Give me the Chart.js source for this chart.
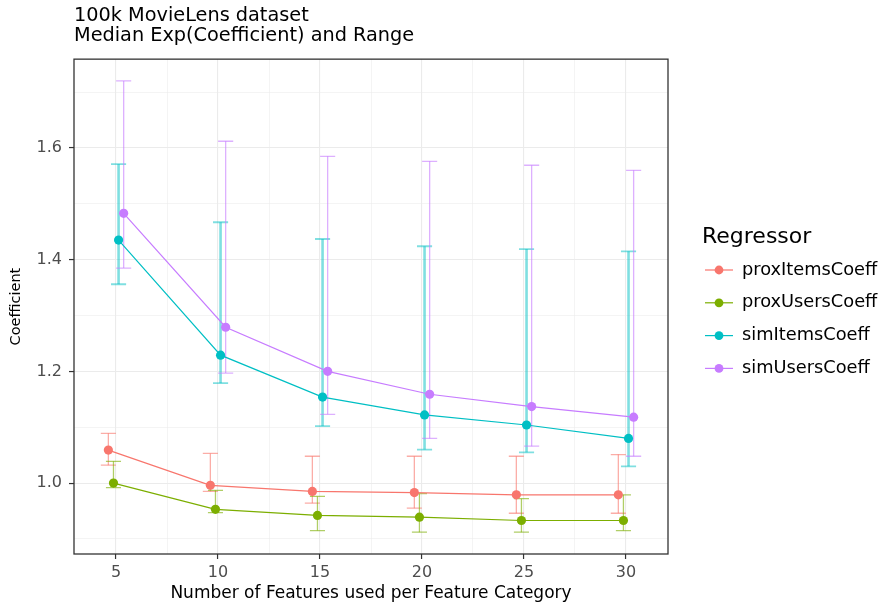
<!DOCTYPE html>
<html>
<head>
<meta charset="utf-8">
<script src="https://cdn.jsdelivr.net/npm/chart.js@4"></script>
<style>
  html, body { margin: 0; padding: 0; background: #fff; }
  canvas { display: block; }
</style>
</head>
<body>
<canvas id="chart" width="882" height="607"></canvas>
<script>
// values
var features = [5, 10, 15, 20, 25, 30];
var regressors = ['proxItemsCoeff', 'proxUsersCoeff', 'simItemsCoeff', 'simUsersCoeff'];

var proxItemsMedian = [1.059, 0.996, 0.985, 0.983, 0.979, 0.979];
var proxItemsMin    = [1.032, 0.985, 0.964, 0.955, 0.946, 0.946];
var proxItemsMax    = [1.089, 1.053, 1.048, 1.048, 1.048, 1.051];

var proxUsersMedian = [1.000, 0.953, 0.942, 0.939, 0.933, 0.933];
var proxUsersMin    = [0.992, 0.947, 0.915, 0.912, 0.912, 0.915];
var proxUsersMax    = [1.039, 0.987, 0.976, 0.981, 0.972, 0.979];

var simItemsMedian  = [1.435, 1.229, 1.154, 1.122, 1.104, 1.080];
var simItemsMin     = [1.356, 1.179, 1.102, 1.060, 1.055, 1.030];
var simItemsMax     = [1.571, 1.467, 1.437, 1.424, 1.419, 1.415];

var simUsersMedian  = [1.483, 1.279, 1.200, 1.159, 1.137, 1.118];
var simUsersMin     = [1.385, 1.197, 1.123, 1.080, 1.066, 1.048];
var simUsersMax     = [1.720, 1.612, 1.585, 1.576, 1.569, 1.560];

var xTickLabels = ['5', '10', '15', '20', '25', '30'];
var yTickLabels = ['1.0', '1.2', '1.4', '1.6'];

var medians = [proxItemsMedian, proxUsersMedian, simItemsMedian, simUsersMedian];
var mins = [proxItemsMin, proxUsersMin, simItemsMin, simUsersMin];
var maxs = [proxItemsMax, proxUsersMax, simItemsMax, simUsersMax];
var colors = ['#F8766D', '#7CAE00', '#00BFC4', '#C77CFF'];
var barColors = ['rgba(248,118,109,0.6)', 'rgba(124,174,0,0.6)', 'rgba(0,191,196,0.5)', 'rgba(199,124,255,0.6)'];
var stemWidths = [1.3, 1.3, 2.6, 1.3];
var capWidths = [1.3, 1.3, 1.8, 1.3];

var font = '"DejaVu Sans", "Liberation Sans", sans-serif';

function dodge(i) {
	return (i - 1.5) * 0.25;
}

var datasets = regressors.map(function(name, i) {
	return {
		label: name,
		data: features.map(function(f, j) { return {x: f + dodge(i), y: medians[i][j]}; }),
		showLine: true,
		borderColor: colors[i],
		backgroundColor: colors[i],
		borderWidth: 1.2,
		pointRadius: 4.6,
		pointBorderWidth: 0,
		pointBackgroundColor: colors[i],
		tension: 0,
		fill: false
	};
});

function xMajor(v) { return xTickLabels.indexOf(String(v)) >= 0; }
function yMajor(v) { return yTickLabels.indexOf(v.toFixed(1)) >= 0; }

var errorBars = {
	id: 'errorBars',
	beforeDatasetsDraw: function(chart) {
		var ctx = chart.ctx, xs = chart.scales.x, ys = chart.scales.y;
		ctx.save();
		regressors.forEach(function(name, i) {
			ctx.strokeStyle = barColors[i];
			features.forEach(function(f, j) {
				var x = xs.getPixelForValue(f + dodge(i));
				var half = xs.getPixelForValue(f + dodge(i) + 0.37) - x;
				var lo = ys.getPixelForValue(mins[i][j]);
				var hi = ys.getPixelForValue(maxs[i][j]);
				ctx.lineWidth = stemWidths[i];
				ctx.beginPath();
				ctx.moveTo(x, lo); ctx.lineTo(x, hi);
				ctx.stroke();
				ctx.lineWidth = capWidths[i];
				ctx.beginPath();
				ctx.moveTo(x - half, lo); ctx.lineTo(x + half, lo);
				ctx.moveTo(x - half, hi); ctx.lineTo(x + half, hi);
				ctx.stroke();
			});
		});
		ctx.restore();
	}
};

var panelAndLegend = {
	id: 'panelAndLegend',
	afterDraw: function(chart) {
		var ctx = chart.ctx, a = chart.chartArea;
		ctx.save();
		ctx.strokeStyle = '#333333';
		ctx.lineWidth = 1.3;
		ctx.strokeRect(a.left, a.top, a.right - a.left, a.bottom - a.top);

		ctx.fillStyle = '#000';
		ctx.textBaseline = 'middle';
		ctx.textAlign = 'left';
		ctx.font = '22px ' + font;
		ctx.fillText('Regressor', 702, 237);
		ctx.font = '17.8px ' + font;
		regressors.forEach(function(name, i) {
			var y = 270 + i * 32.8;
			ctx.strokeStyle = colors[i];
			ctx.lineWidth = 1.2;
			ctx.beginPath(); ctx.moveTo(705, y); ctx.lineTo(733, y); ctx.stroke();
			ctx.fillStyle = colors[i];
			ctx.beginPath(); ctx.arc(719, y, 4.4, 0, Math.PI * 2); ctx.fill();
			ctx.fillStyle = '#000';
			ctx.fillText(name, 742, y);
		});
		ctx.restore();
	}
};

var myChart = new Chart(document.getElementById('chart'), {
	type: 'scatter',
	data: { datasets: datasets },
	options: {
		responsive: false,
		animation: false,
		layout: { padding: { left: 0, right: 214, top: 0, bottom: 0 } },
		plugins: {
			legend: { display: false },
			tooltip: { enabled: false },
			title: {
				display: true,
				fullSize: false,
				align: 'start',
				text: ['100k MovieLens dataset', 'Median Exp(Coefficient) and Range'],
				color: '#000',
				font: { family: font, size: 19.3, weight: 'normal', lineHeight: 1.04 },
				padding: { top: 6, bottom: 13 }
			}
		},
		scales: {
			x: {
				type: 'linear',
				min: 2.94,
				max: 32.06,
				border: { display: false },
				afterFit: function(s) { s.height = 53; },
				ticks: {
					stepSize: 2.5,
					includeBounds: false,
					autoSkip: false,
					maxRotation: 0,
					padding: 4,
					color: '#4d4d4d',
					font: { family: font, size: 16 },
					callback: function(v) { return xMajor(v) ? String(v) : ''; }
				},
				grid: {
					color: '#ebebeb',
					lineWidth: function(c) { return xMajor(c.tick.value) ? 1.1 : 0.55; },
					tickColor: function(c) { return xMajor(c.tick.value) ? '#333333' : 'rgba(0,0,0,0)'; },
					tickLength: 5,
					tickWidth: 1.2
				},
				title: {
					display: true,
					text: 'Number of Features used per Feature Category',
					color: '#000',
					font: { family: font, size: 17 },
					padding: { top: 0, bottom: 3 }
				}
			},
			y: {
				type: 'linear',
				min: 0.873,
				max: 1.759,
				border: { display: false },
				afterFit: function(s) { s.width = 74; },
				ticks: {
					stepSize: 0.1,
					includeBounds: false,
					autoSkip: false,
					padding: 7,
					color: '#4d4d4d',
					font: { family: font, size: 16 },
					callback: function(v) { return yMajor(v) ? v.toFixed(1) : ''; }
				},
				grid: {
					color: '#ebebeb',
					lineWidth: function(c) { return yMajor(c.tick.value) ? 1.1 : 0.55; },
					tickColor: function(c) { return yMajor(c.tick.value) ? '#333333' : 'rgba(0,0,0,0)'; },
					tickLength: 5,
					tickWidth: 1.2
				},
				title: {
					display: true,
					text: 'Coefficient',
					color: '#000',
					font: { family: font, size: 14.5 },
					padding: { top: 8, bottom: 0 }
				}
			}
		}
	},
	plugins: [errorBars, panelAndLegend]
});
</script>
</body>
</html>
